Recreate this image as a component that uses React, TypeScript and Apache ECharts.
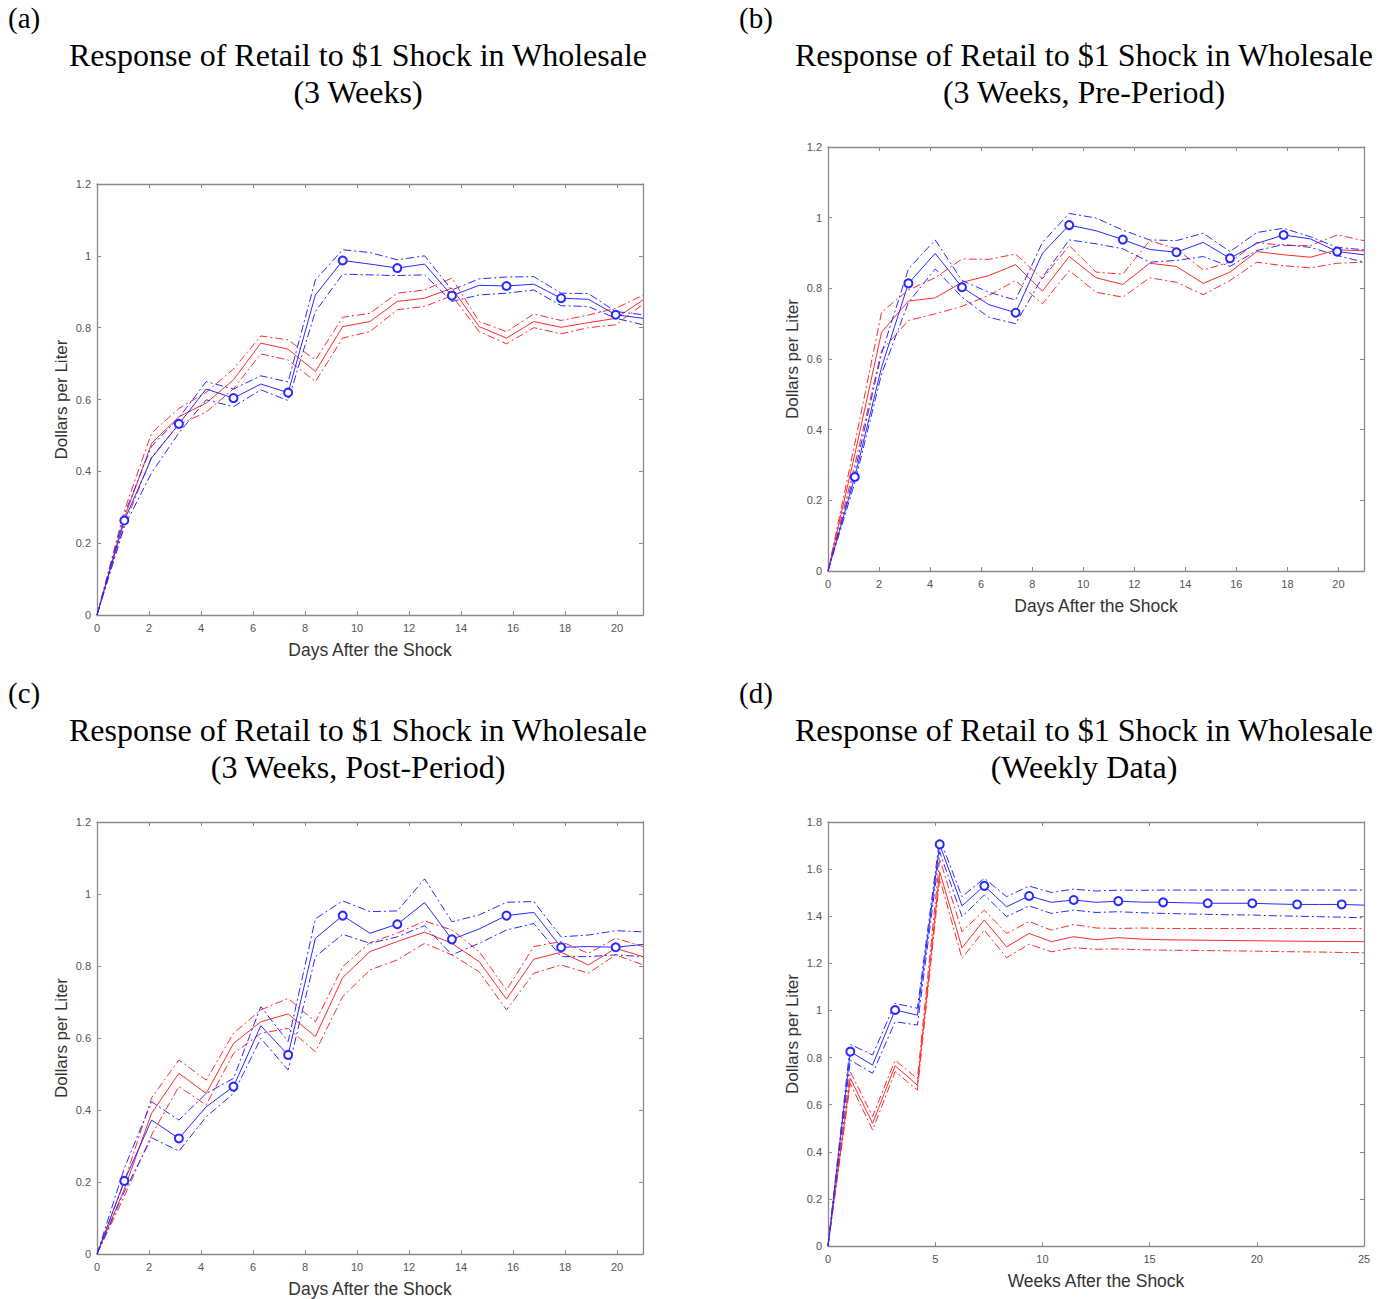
import React, { useEffect, useRef } from "react";
import * as echarts from "echarts";

// x positions of the impulse-response steps
const DAYS = [0, 1.05, 2.1, 3.15, 4.2, 5.25, 6.3, 7.35, 8.4, 9.45, 10.5, 11.55, 12.6, 13.65, 14.7, 15.75, 16.8, 17.85, 18.9, 19.95, 21];
const WEEKS = [0, 1.04, 2.08, 3.13, 4.17, 5.21, 6.25, 7.29, 8.33, 9.38, 10.42, 11.46, 12.5, 13.54, 14.58, 15.63, 16.67, 17.71, 18.75, 19.79, 20.83, 21.88, 22.92, 23.96, 25];

// Panel (a)
const aBlue = [0, 0.263, 0.437, 0.532, 0.629, 0.604, 0.643, 0.619, 0.891, 0.987, 0.977, 0.966, 0.977, 0.889, 0.918, 0.916, 0.921, 0.882, 0.879, 0.836, 0.826];
const aBlueHi = [0, 0.28, 0.47, 0.549, 0.65, 0.629, 0.666, 0.649, 0.933, 1.017, 1.009, 0.989, 1.0, 0.905, 0.936, 0.941, 0.942, 0.896, 0.895, 0.845, 0.836];
const aBlueLo = [0, 0.246, 0.396, 0.507, 0.599, 0.58, 0.627, 0.597, 0.845, 0.949, 0.947, 0.945, 0.947, 0.873, 0.891, 0.896, 0.905, 0.861, 0.859, 0.826, 0.808];
const aRed = [0, 0.27, 0.478, 0.552, 0.59, 0.655, 0.757, 0.74, 0.678, 0.803, 0.817, 0.873, 0.882, 0.91, 0.803, 0.771, 0.817, 0.801, 0.814, 0.826, 0.877];
const aRedHi = [0, 0.29, 0.507, 0.575, 0.62, 0.685, 0.777, 0.766, 0.71, 0.829, 0.84, 0.896, 0.905, 0.938, 0.817, 0.789, 0.838, 0.82, 0.835, 0.854, 0.89];
const aRedLo = [0, 0.25, 0.44, 0.53, 0.565, 0.63, 0.727, 0.71, 0.65, 0.771, 0.789, 0.85, 0.859, 0.889, 0.789, 0.755, 0.8, 0.783, 0.8, 0.808, 0.865];

// Panel (b)
const bBlue = [0, 0.266, 0.577, 0.814, 0.899, 0.803, 0.754, 0.731, 0.899, 0.979, 0.963, 0.938, 0.91, 0.902, 0.93, 0.885, 0.927, 0.951, 0.94, 0.904, 0.895];
const bBlueHi = [0, 0.28, 0.616, 0.855, 0.937, 0.822, 0.789, 0.767, 0.93, 1.012, 0.999, 0.965, 0.937, 0.935, 0.956, 0.904, 0.958, 0.97, 0.946, 0.916, 0.909];
const bBlueLo = [0, 0.25, 0.558, 0.76, 0.855, 0.775, 0.718, 0.7, 0.831, 0.937, 0.926, 0.912, 0.874, 0.879, 0.89, 0.862, 0.907, 0.924, 0.916, 0.893, 0.874];
const bRed = [0, 0.33, 0.676, 0.764, 0.773, 0.817, 0.836, 0.867, 0.792, 0.89, 0.83, 0.811, 0.871, 0.862, 0.814, 0.846, 0.904, 0.895, 0.888, 0.909, 0.906];
const bRedHi = [0, 0.36, 0.733, 0.795, 0.83, 0.883, 0.882, 0.897, 0.827, 0.921, 0.846, 0.84, 0.935, 0.912, 0.852, 0.874, 0.93, 0.921, 0.921, 0.951, 0.935];
const bRedLo = [0, 0.3, 0.624, 0.709, 0.728, 0.749, 0.78, 0.822, 0.756, 0.85, 0.789, 0.775, 0.83, 0.817, 0.782, 0.822, 0.874, 0.864, 0.858, 0.871, 0.874];

// Panel (c)
const cBlue = [0, 0.203, 0.372, 0.321, 0.409, 0.465, 0.634, 0.553, 0.877, 0.94, 0.891, 0.916, 0.976, 0.874, 0.903, 0.94, 0.949, 0.852, 0.854, 0.852, 0.86];
const cBlueHi = [0, 0.238, 0.423, 0.372, 0.446, 0.488, 0.687, 0.59, 0.931, 0.981, 0.951, 0.953, 1.042, 0.923, 0.942, 0.977, 0.979, 0.881, 0.886, 0.898, 0.895];
const cBlueLo = [0, 0.173, 0.323, 0.286, 0.381, 0.446, 0.599, 0.511, 0.826, 0.888, 0.863, 0.881, 0.912, 0.831, 0.863, 0.9, 0.918, 0.826, 0.826, 0.831, 0.826];
const cRed = [0, 0.18, 0.391, 0.502, 0.446, 0.585, 0.645, 0.667, 0.604, 0.768, 0.84, 0.868, 0.894, 0.863, 0.812, 0.708, 0.819, 0.838, 0.803, 0.849, 0.826];
const cRedHi = [0, 0.2, 0.434, 0.539, 0.483, 0.613, 0.678, 0.71, 0.645, 0.798, 0.865, 0.891, 0.925, 0.9, 0.84, 0.733, 0.854, 0.868, 0.835, 0.877, 0.854];
const cRedLo = [0, 0.16, 0.331, 0.465, 0.414, 0.557, 0.613, 0.627, 0.562, 0.715, 0.789, 0.817, 0.863, 0.831, 0.784, 0.678, 0.78, 0.803, 0.78, 0.831, 0.803];

// Panel (d)
const dBlue = [0, 0.825, 0.768, 1.002, 0.98, 1.705, 1.444, 1.529, 1.44, 1.486, 1.459, 1.469, 1.459, 1.464, 1.46, 1.459, 1.457, 1.455, 1.455, 1.455, 1.452, 1.45, 1.45, 1.45, 1.447];
const dBlueHi = [0, 0.856, 0.811, 1.03, 1.009, 1.73, 1.483, 1.561, 1.483, 1.528, 1.501, 1.515, 1.507, 1.511, 1.51, 1.511, 1.511, 1.511, 1.511, 1.511, 1.511, 1.511, 1.511, 1.511, 1.511];
const dBlueLo = [0, 0.789, 0.733, 0.952, 0.938, 1.674, 1.398, 1.49, 1.398, 1.444, 1.412, 1.426, 1.416, 1.419, 1.415, 1.412, 1.41, 1.408, 1.406, 1.405, 1.402, 1.4, 1.398, 1.396, 1.393];
const dRed = [0, 0.712, 0.521, 0.765, 0.683, 1.589, 1.266, 1.384, 1.27, 1.327, 1.292, 1.313, 1.3, 1.309, 1.303, 1.3, 1.299, 1.298, 1.297, 1.296, 1.295, 1.294, 1.293, 1.293, 1.292];
const dRedHi = [0, 0.74, 0.55, 0.789, 0.71, 1.645, 1.334, 1.426, 1.327, 1.377, 1.341, 1.365, 1.35, 1.348, 1.35, 1.348, 1.348, 1.348, 1.348, 1.348, 1.348, 1.348, 1.348, 1.348, 1.348];
const dRedLo = [0, 0.69, 0.492, 0.74, 0.662, 1.56, 1.221, 1.341, 1.224, 1.281, 1.249, 1.266, 1.26, 1.261, 1.258, 1.256, 1.255, 1.254, 1.253, 1.252, 1.25, 1.249, 1.248, 1.246, 1.245];

const TITLE_LINE1 = "Response of Retail to $1 Shock in Wholesale";
const SUBTITLES = ["(3 Weeks)", "(3 Weeks, Pre-Period)", "(3 Weeks, Post-Period)", "(Weekly Data)"];
const PANEL_TAGS = ["(a)", "(b)", "(c)", "(d)"];
const X_NAMES = ["Days After the Shock", "Days After the Shock", "Days After the Shock", "Weeks After the Shock"];
const Y_NAME = "Dollars per Liter";

const BLUE = "#2a2aff";
const RED = "#ff2a2a";
const DASH = [8, 3, 2, 3];
const SANS = "Liberation Sans, Arial, sans-serif";
const SERIF = "Liberation Serif, Times New Roman, serif";

export default function App() {
  const ref = useRef<HTMLDivElement>(null);
  useEffect(() => {
    if (!ref.current) return;
    const chart = echarts.init(ref.current, null, { renderer: "svg" });

    const panels = [
      { x: DAYS, xmax: 21, xint: 2, ymax: 1.2, grid: { left: 97, top: 184, width: 546, height: 431 }, data: [aBlue, aBlueHi, aBlueLo, aRed, aRedHi, aRedLo], showMax: false },
      { x: DAYS, xmax: 21, xint: 2, ymax: 1.2, grid: { left: 828, top: 147, width: 536, height: 424 }, data: [bBlue, bBlueHi, bBlueLo, bRed, bRedHi, bRedLo], showMax: false },
      { x: DAYS, xmax: 21, xint: 2, ymax: 1.2, grid: { left: 97, top: 822, width: 546, height: 432 }, data: [cBlue, cBlueHi, cBlueLo, cRed, cRedHi, cRedLo], showMax: false },
      { x: WEEKS, xmax: 25, xint: 5, ymax: 1.8, grid: { left: 828, top: 822, width: 536, height: 424 }, data: [dBlue, dBlueHi, dBlueLo, dRed, dRedHi, dRedLo], showMax: true },
    ];

    const axisLine = { show: true, onZero: false, lineStyle: { color: "#8a8a8a", width: 1.3 } };
    const axisTick = { show: true, inside: true, length: 4, lineStyle: { color: "#8a8a8a" } };
    const labelStyle = { fontSize: 11, color: "#555", fontFamily: SANS };

    const grids: any[] = [];
    const xAxes: any[] = [];
    const yAxes: any[] = [];
    const series: any[] = [];

    panels.forEach((p, i) => {
      grids.push({ ...p.grid, containLabel: false });
      const xBase = { type: "value", gridIndex: i, min: 0, max: p.xmax, interval: p.xint, splitLine: { show: false }, axisLine, axisTick };
      xAxes.push({
        ...xBase, position: "bottom",
        axisLabel: { ...labelStyle, margin: 7, showMaxLabel: p.showMax },
        name: X_NAMES[i], nameLocation: "middle", nameGap: 26,
        nameTextStyle: { fontSize: 17.5, color: "#333", fontFamily: SANS },
      });
      xAxes.push({ ...xBase, position: "top", axisLabel: { show: false } });
      const yBase = { type: "value", gridIndex: i, min: 0, max: p.ymax, interval: 0.2, splitLine: { show: false }, axisLine, axisTick };
      yAxes.push({
        ...yBase, position: "left",
        axisLabel: { ...labelStyle, margin: 6 },
        name: Y_NAME, nameLocation: "middle", nameGap: 27, nameRotate: 90,
        nameTextStyle: { fontSize: 17, color: "#333", fontFamily: SANS },
      });
      yAxes.push({ ...yBase, position: "right", axisLabel: { show: false } });

      const styles = [
        { color: BLUE, type: "solid", marker: true },
        { color: BLUE, type: DASH, marker: false },
        { color: BLUE, type: DASH, marker: false },
        { color: RED, type: "solid", marker: false },
        { color: RED, type: DASH, marker: false },
        { color: RED, type: DASH, marker: false },
      ];
      p.data.forEach((vals, j) => {
        const st = styles[j];
        series.push({
          type: "line",
          xAxisIndex: i * 2,
          yAxisIndex: i * 2,
          data: vals.map((v, k) => [p.x[k], v]),
          lineStyle: { color: st.color, width: 1, type: st.type },
          itemStyle: { color: st.color, borderColor: st.color, borderWidth: 1 },
          symbol: st.marker ? (_v: any, params: any) => (params.dataIndex % 2 === 1 ? "emptyCircle" : "none") : "none",
          symbolSize: 8,
          showSymbol: st.marker,
          z: j >= 3 ? 2 : 3,
          silent: true,
        });
      });
    });

    const graphics: any[] = [];
    const centers = [
      { cx: 358, y1: 55, tagX: 8, tagY: 18 },
      { cx: 1084, y1: 55, tagX: 739, tagY: 18 },
      { cx: 358, y1: 730, tagX: 8, tagY: 693 },
      { cx: 1084, y1: 730, tagX: 739, tagY: 693 },
    ];
    centers.forEach((c, i) => {
      graphics.push({ type: "text", x: c.tagX, y: c.tagY, style: { text: PANEL_TAGS[i], font: `29px ${SERIF}`, fill: "#000", textAlign: "left", textVerticalAlign: "middle" } });
      graphics.push({ type: "text", x: c.cx, y: c.y1, style: { text: TITLE_LINE1, font: `32px ${SERIF}`, fill: "#000", textAlign: "center", textVerticalAlign: "middle" } });
      graphics.push({ type: "text", x: c.cx, y: c.y1 + 37, style: { text: SUBTITLES[i], font: `32px ${SERIF}`, fill: "#000", textAlign: "center", textVerticalAlign: "middle" } });
    });

    chart.setOption({
      animation: false,
      backgroundColor: "#fff",
      grid: grids,
      xAxis: xAxes,
      yAxis: yAxes,
      series,
      graphic: graphics,
    });
    return () => chart.dispose();
  }, []);

  return <div ref={ref} style={{ position: "absolute", left: 0, top: 0, width: 1385, height: 1299 }} />;
}
